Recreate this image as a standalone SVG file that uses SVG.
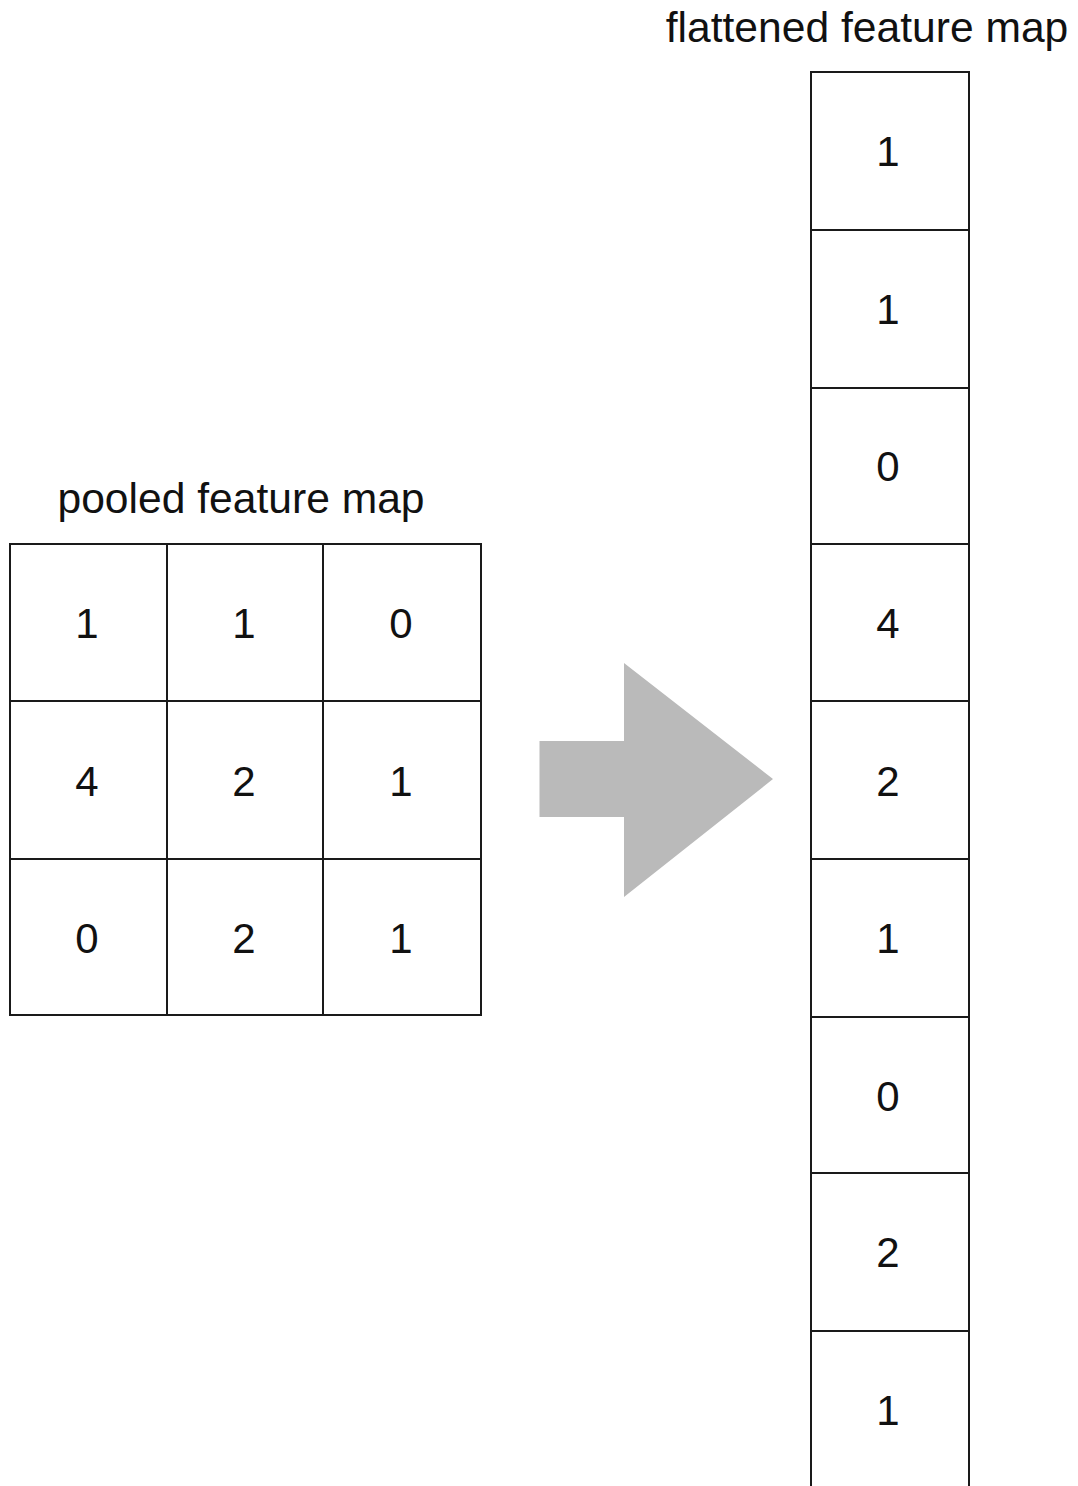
<svg xmlns="http://www.w3.org/2000/svg" width="1078" height="1486" viewBox="0 0 1078 1486">
<style>
.cell{fill:#ffffff;stroke:#1a1a1a;stroke-width:2}
.num{font-family:"Liberation Sans",Arial,sans-serif;font-size:42px;fill:#111;text-anchor:middle}
.title{font-family:"Liberation Sans",Arial,sans-serif;font-size:42.6px;fill:#111;text-anchor:middle}
</style>
<rect width="1078" height="1486" fill="#ffffff"/>
<g id="pooled-title"><text class="title" x="241" y="513">pooled feature map</text></g>
<g id="pooled-grid">
<g id="p11"><rect class="cell" x="10" y="544" width="157" height="157"/><text class="num" x="87" y="638">1</text></g>
<g id="p12"><rect class="cell" x="167" y="544" width="156" height="157"/><text class="num" x="244" y="638">1</text></g>
<g id="p13"><rect class="cell" x="323" y="544" width="158" height="157"/><text class="num" x="401" y="638">0</text></g>
<g id="p21"><rect class="cell" x="10" y="701" width="157" height="158"/><text class="num" x="87" y="796">4</text></g>
<g id="p22"><rect class="cell" x="167" y="701" width="156" height="158"/><text class="num" x="244" y="796">2</text></g>
<g id="p23"><rect class="cell" x="323" y="701" width="158" height="158"/><text class="num" x="401" y="796">1</text></g>
<g id="p31"><rect class="cell" x="10" y="859" width="157" height="156"/><text class="num" x="87" y="953">0</text></g>
<g id="p32"><rect class="cell" x="167" y="859" width="156" height="156"/><text class="num" x="244" y="953">2</text></g>
<g id="p33"><rect class="cell" x="323" y="859" width="158" height="156"/><text class="num" x="401" y="953">1</text></g>
</g>
<g id="arrow"><polygon points="539.5,741 624,741 624,663 773,779 624,897 624,817 539.5,817" fill="#bababa"/></g>
<g id="flat-title"><text class="title" x="867" y="42">flattened feature map</text></g>
<g id="flat-column">
<g id="f1"><rect class="cell" x="811" y="72" width="158" height="158"/><text class="num" x="888" y="166">1</text></g>
<g id="f2"><rect class="cell" x="811" y="230" width="158" height="158"/><text class="num" x="888" y="324">1</text></g>
<g id="f3"><rect class="cell" x="811" y="388" width="158" height="156"/><text class="num" x="888" y="481">0</text></g>
<g id="f4"><rect class="cell" x="811" y="544" width="158" height="157"/><text class="num" x="888" y="638">4</text></g>
<g id="f5"><rect class="cell" x="811" y="701" width="158" height="158"/><text class="num" x="888" y="796">2</text></g>
<g id="f6"><rect class="cell" x="811" y="859" width="158" height="158"/><text class="num" x="888" y="953">1</text></g>
<g id="f7"><rect class="cell" x="811" y="1017" width="158" height="156"/><text class="num" x="888" y="1111">0</text></g>
<g id="f8"><rect class="cell" x="811" y="1173" width="158" height="158"/><text class="num" x="888" y="1267">2</text></g>
<g id="f9"><rect class="cell" x="811" y="1331" width="158" height="160"/><text class="num" x="888" y="1425">1</text></g>
</g>
</svg>
